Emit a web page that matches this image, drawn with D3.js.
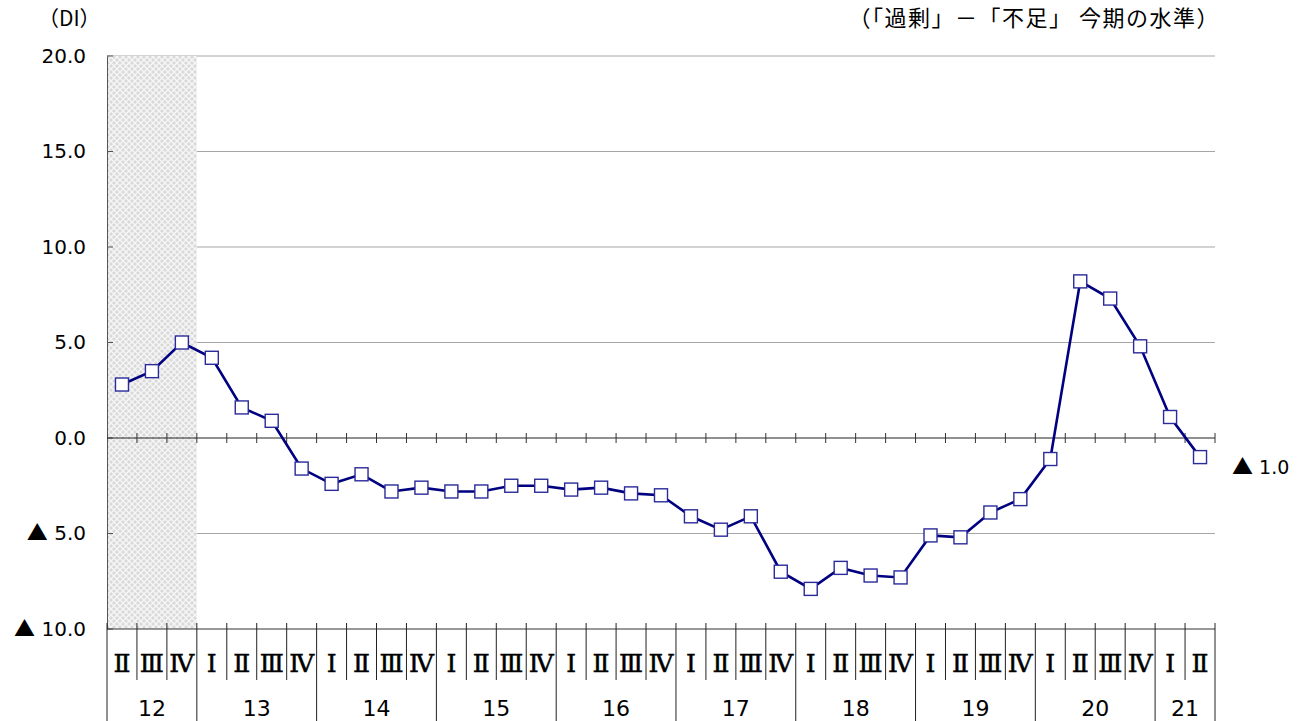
<!DOCTYPE html>
<html>
<head>
<meta charset="utf-8">
<script src="https://cdn.jsdelivr.net/npm/d3@7"></script>
<style>
  body { margin: 0; background: #fff; }
  svg text { font-family: "Noto Sans CJK JP", "Noto Sans", sans-serif; fill: #000; }
  svg text.num { font-family: "DejaVu Sans", sans-serif; }
  svg tspan.tri { font-family: "Noto Sans CJK JP", sans-serif; }
</style>
</head>
<body>
<div id="chart"></div>
<script>
// 四半期ごとの DI（12年Ⅱ期 ～ 21年Ⅱ期）
const years = ["12", "13", "14", "15", "16", "17", "18", "19", "20", "21"];
const quarterNames = ["Ⅰ", "Ⅱ", "Ⅲ", "Ⅳ"];
const firstQuarter = { year: "12", q: 1 };   // 12年Ⅱ期から
const diValues = [
  2.8, 3.5, 5.0,
  4.2, 1.6, 0.9, -1.6,
  -2.4, -1.9, -2.8, -2.6,
  -2.8, -2.8, -2.5, -2.5,
  -2.7, -2.6, -2.9, -3.0,
  -4.1, -4.8, -4.1, -7.0,
  -7.9, -6.8, -7.2, -7.3,
  -5.1, -5.2, -3.9, -3.2,
  -1.1, 8.2, 7.3, 4.8,
  1.1, -1.0
];
const yTicks = [20, 15, 10, 5, 0, -5, -10];
const shadedCount = 3; // 網掛け部分（12年）

// 四半期のリストを作る
const quarters = [];
{
  let yi = years.indexOf(firstQuarter.year), q = firstQuarter.q;
  for (let i = 0; i < diValues.length; i++) {
    quarters.push({ key: i, year: years[yi], q: q, value: diValues[i] });
    q++;
    if (q > 3) { q = 0; yi++; }
  }
}

const W = 1305, H = 721;
const margin = { top: 56, right: 90, bottom: 92, left: 107 };
const plotW = W - margin.left - margin.right;
const plotH = H - margin.top - margin.bottom;

const svg = d3.select("#chart").append("svg")
  .attr("width", W).attr("height", H);

const x = d3.scaleBand()
  .domain(quarters.map(d => d.key))
  .range([margin.left, margin.left + plotW]);

const y = d3.scaleLinear()
  .domain([-10, 20])
  .range([margin.top + plotH, margin.top]);

// マイナスは▲表記（▲だけ全角フォントで大きめに）
function writeValue(sel, v) {
  sel.text(null);
  if (v < 0) {
    sel.append("tspan").attr("class", "tri").attr("font-size", 21).text("▲");
    sel.append("tspan").text(" " + Math.abs(v).toFixed(1));
  } else {
    sel.append("tspan").text(v.toFixed(1));
  }
}

// 網掛けパターン
const defs = svg.append("defs");
const pat = defs.append("pattern")
  .attr("id", "hatch").attr("patternUnits", "userSpaceOnUse")
  .attr("width", 6).attr("height", 6);
pat.append("rect").attr("width", 6).attr("height", 6).attr("fill", "#d9d9d9");
pat.append("path").attr("d", "M0,0L6,6M6,0L0,6")
  .attr("stroke", "#f6f6f6").attr("stroke-width", 1.4);

// グリッド線
svg.append("g").selectAll("line")
  .data(yTicks.filter(v => v !== 0 && v !== -10))
  .join("line")
  .attr("x1", margin.left).attr("x2", margin.left + plotW)
  .attr("y1", d => y(d)).attr("y2", d => y(d))
  .attr("stroke", "#a6a6a6").attr("stroke-width", 1);

// 網掛け
svg.append("rect")
  .attr("x", margin.left).attr("y", margin.top)
  .attr("width", x.bandwidth() * shadedCount).attr("height", plotH)
  .attr("fill", "url(#hatch)");

// Y軸
const yAxis = svg.append("g")
  .attr("transform", `translate(${margin.left},0)`)
  .call(d3.axisLeft(y).tickValues(yTicks).tickSize(0).tickPadding(21));
yAxis.select(".domain").attr("stroke", "#555");
yAxis.selectAll("text")
  .attr("class", "num")
  .attr("font-size", 20)
  .each(function(d) { writeValue(d3.select(this), d); });
svg.append("g").selectAll("line")
  .data(yTicks)
  .join("line")
  .attr("x1", margin.left).attr("x2", margin.left + 6)
  .attr("y1", d => y(d)).attr("y2", d => y(d))
  .attr("stroke", "#555");

// ゼロ線と目盛り
svg.append("line")
  .attr("x1", margin.left).attr("x2", margin.left + plotW)
  .attr("y1", y(0)).attr("y2", y(0))
  .attr("stroke", "#222").attr("stroke-width", 1.2);
svg.append("g").selectAll("line")
  .data(quarters.slice(1).concat([{ key: "end" }]))
  .join("line")
  .attr("x1", d => d.key === "end" ? margin.left + plotW : x(d.key))
  .attr("x2", d => d.key === "end" ? margin.left + plotW : x(d.key))
  .attr("y1", y(0) - 5).attr("y2", y(0) + 5)
  .attr("stroke", "#333");

// 下の軸線
svg.append("line")
  .attr("x1", margin.left).attr("x2", margin.left + plotW)
  .attr("y1", y(-10)).attr("y2", y(-10))
  .attr("stroke", "#333");

// 四半期ラベル領域
const baseY = y(-10);
const catG = svg.append("g");
quarters.forEach((d, i) => {
  const isYearStart = d.q === 0 || i === 0;
  catG.append("line")
    .attr("x1", x(d.key)).attr("x2", x(d.key))
    .attr("y1", baseY - 6).attr("y2", isYearStart ? H : baseY + 51)
    .attr("stroke", "#222");
});
catG.append("line")
  .attr("x1", margin.left + plotW).attr("x2", margin.left + plotW)
  .attr("y1", baseY - 6).attr("y2", H)
  .attr("stroke", "#222");

catG.selectAll("text.q")
  .data(quarters)
  .join("text")
  .attr("class", "q")
  .attr("x", d => x(d.key) + x.bandwidth() / 2)
  .attr("y", baseY + 43)
  .attr("text-anchor", "middle")
  .attr("font-size", 25)
  .attr("stroke", "#000").attr("stroke-width", 0.5)
  .style("font-family", "'DejaVu Serif', serif")
  .text(d => quarterNames[d.q]);

const yearGroups = d3.groups(quarters, d => d.year);
catG.selectAll("text.yr")
  .data(yearGroups)
  .join("text")
  .attr("class", "yr num")
  .attr("x", g => (x(g[1][0].key) + x(g[1][g[1].length - 1].key) + x.bandwidth()) / 2)
  .attr("y", baseY + 87)
  .attr("text-anchor", "middle")
  .attr("font-size", 22)
  .text(g => g[0]);

// 折れ線
const line = d3.line()
  .x(d => x(d.key) + x.bandwidth() / 2)
  .y(d => y(d.value));
svg.append("path")
  .datum(quarters)
  .attr("d", line)
  .attr("fill", "none")
  .attr("stroke", "#000080")
  .attr("stroke-width", 2.6);

svg.append("g").selectAll("rect")
  .data(quarters)
  .join("rect")
  .attr("x", d => x(d.key) + x.bandwidth() / 2 - 6.5)
  .attr("y", d => y(d.value) - 6.5)
  .attr("width", 13).attr("height", 13)
  .attr("fill", "#fff")
  .attr("stroke", "#2a2a9a")
  .attr("stroke-width", 1.4);

// 最新値ラベル
const last = quarters[quarters.length - 1];
svg.append("text")
  .attr("class", "num")
  .attr("x", 1232).attr("y", y(last.value) + 17)
  .attr("font-size", 19)
  .call(writeValue, last.value);

// タイトル類
svg.append("text")
  .attr("x", 38).attr("y", 26)
  .attr("font-size", 21)
  .text("（DI）");
svg.append("text")
  .attr("x", 1220).attr("y", 26)
  .attr("text-anchor", "end")
  .attr("font-size", 22)
  .attr("letter-spacing", 1.5)
  .text("（「過剰」－「不足」 今期の水準）");
</script>
</body>
</html>
